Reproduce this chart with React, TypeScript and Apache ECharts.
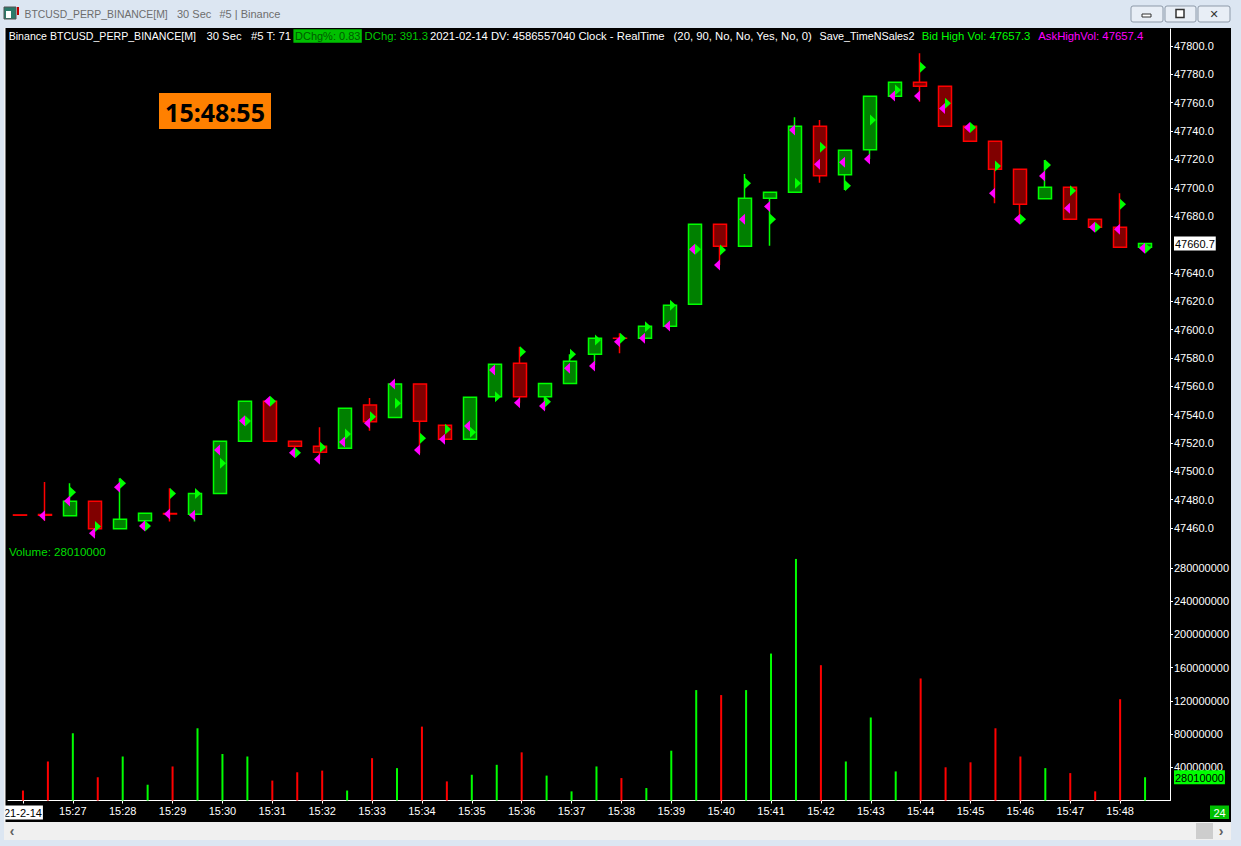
import React, { useEffect, useRef } from 'react';
import * as echarts from 'echarts';

// ---------- data ----------
const times = [
  '15:26:00', '15:26:30', '15:27:00', '15:27:30', '15:28:00', '15:28:30', '15:29:00', '15:29:30',
  '15:30:00', '15:30:30', '15:31:00', '15:31:30', '15:32:00', '15:32:30', '15:33:00', '15:33:30',
  '15:34:00', '15:34:30', '15:35:00', '15:35:30', '15:36:00', '15:36:30', '15:37:00', '15:37:30',
  '15:38:00', '15:38:30', '15:39:00', '15:39:30', '15:40:00', '15:40:30', '15:41:00', '15:41:30',
  '15:42:00', '15:42:30', '15:43:00', '15:43:30', '15:44:00', '15:44:30', '15:45:00', '15:45:30',
  '15:46:00', '15:46:30', '15:47:00', '15:47:30', '15:48:00', '15:48:30',
];
const opens = [
  47469.2, 47469.5, 47468.7, 47478.8, 47459.5, 47465.1, 47470.2, 47469.6,
  47484.4, 47521.2, 47549.4, 47521.2, 47517.6, 47516.2, 47546.7, 47538.0,
  47561.6, 47532.4, 47522.6, 47552.6, 47576.2, 47552.6, 47562.0, 47582.5,
  47593.9, 47593.8, 47602.3, 47617.8, 47674.2, 47658.7, 47692.6, 47696.8,
  47743.4, 47709.2, 47726.9, 47764.5, 47774.4, 47771.6, 47743.4, 47732.8,
  47713.0, 47692.3, 47700.3, 47677.8, 47672.1, 47658.0,
];
const closes = [
  47469.0, 47469.0, 47478.8, 47459.5, 47466.1, 47470.4, 47469.9, 47484.4,
  47521.2, 47549.4, 47521.2, 47517.6, 47513.4, 47544.4, 47535.0, 47561.6,
  47535.3, 47522.6, 47552.2, 47575.5, 47552.6, 47562.0, 47577.6, 47593.8,
  47593.8, 47602.3, 47617.1, 47674.2, 47658.7, 47692.6, 47696.8, 47743.4,
  47708.5, 47726.4, 47764.5, 47774.4, 47771.6, 47743.4, 47732.8, 47713.0,
  47688.3, 47700.3, 47677.8, 47672.1, 47658.0, 47660.7,
];
const lows = [
  47469.0, 47465.1, 47468.7, 47455.0, 47459.5, 47461.4, 47464.5, 47464.5,
  47484.4, 47521.2, 47521.2, 47513.0, 47508.4, 47516.2, 47528.6, 47538.0,
  47512.7, 47522.6, 47522.6, 47552.6, 47548.4, 47543.2, 47562.0, 47574.9,
  47583.2, 47593.8, 47602.3, 47617.8, 47645.5, 47658.7, 47659.1, 47696.8,
  47703.6, 47698.4, 47720.3, 47764.5, 47760.7, 47743.4, 47732.8, 47689.0,
  47677.3, 47692.3, 47677.8, 47672.1, 47658.0, 47657.3,
];
const highs = [
  47469.2, 47492.4, 47491.5, 47478.8, 47495.0, 47470.4, 47488.0, 47484.4,
  47521.2, 47549.4, 47549.4, 47521.2, 47531.0, 47544.4, 47551.7, 47561.6,
  47561.6, 47532.4, 47552.2, 47575.5, 47587.9, 47562.0, 47582.5, 47593.8,
  47597.3, 47602.3, 47617.1, 47674.2, 47674.2, 47709.7, 47696.8, 47749.7,
  47747.8, 47726.4, 47764.5, 47774.4, 47794.9, 47771.6, 47743.4, 47732.8,
  47713.0, 47719.6, 47700.3, 47677.8, 47696.1, 47660.7,
];
// price with the highest bid volume (green flags) / ask volume (magenta flags)
const bidHighVol = [
  null, null, 47485.2, 47461.0, 47491.5, 47461.4, 47484.4, 47484.4,
  47505.6, 47535.5, 47549.4, 47513.0, 47516.9, 47526.3, 47538.5, 47548.0,
  47523.3, 47529.6, 47527.5, 47552.6, 47584.4, 47549.1, 47582.5, 47592.6,
  47593.8, 47602.0, 47617.1, 47656.6, 47656.1, 47703.1, 47677.8, 47703.1,
  47728.5, 47701.5, 47747.8, 47769.0, 47785.0, 47759.6, 47742.6, 47715.4,
  47677.8, 47716.0, 47697.9, 47672.1, 47688.3, 47657.3,
];
const askHighVol = [
  null, 47468.7, 47479.0, 47456.2, 47488.7, 47461.4, 47469.9, 47469.0,
  47515.0, 47535.7, 47549.4, 47513.0, 47508.4, 47520.7, 47533.8, 47561.6,
  47515.0, 47522.6, 47532.0, 47571.4, 47548.4, 47546.0, 47572.6, 47574.3,
  47591.4, 47593.8, 47602.5, 47656.6, 47645.5, 47677.8, 47686.7, 47740.7,
  47716.6, 47718.0, 47720.3, 47764.7, 47764.7, 47756.0, 47742.6, 47696.1,
  47677.8, 47708.3, 47685.5, 47672.1, 47670.7, 47657.4,
];
const volumes = [
  12000000, 47000000, 81000000, 28000000, 53000000, 19000000, 41000000, 87000000,
  56000000, 53000000, 24000000, 34000000, 36000000, 12000000, 51000000, 39000000,
  89000000, 23000000, 31000000, 43000000, 58000000, 30000000, 11000000, 41000000,
  27000000, 15000000, 60000000, 133000000, 127000000, 133000000, 177000000, 291000000,
  163000000, 47000000, 100000000, 35000000, 147000000, 40000000, 46000000, 87000000,
  53000000, 39000000, 33000000, 11000000, 122000000, 28010000,
];
const priceTicks = [
  47460, 47480, 47500, 47520, 47540, 47560, 47580, 47600, 47620, 47640,
  47680, 47700, 47720, 47740, 47760, 47780, 47800,
];
const volumeTicks = [40000000, 80000000, 120000000, 160000000, 200000000, 240000000, 280000000];
const timeTickIndex = [0, 2, 4, 6, 8, 10, 12, 14, 16, 18, 20, 22, 24, 26, 28, 30, 32, 34, 36, 38, 40, 42, 44];
const dateLabel = '21-2-14';
const lastPrice = 47660.7;
const lastVolume = 28010000;
const clockText = '15:48:55';

// ---------- styling ----------
const FONT = 'Liberation Sans';
const UP_FILL = '#008000';
const UP_LINE = '#00ff00';
const DN_FILL = '#800000';
const DN_LINE = '#ff0000';
const FRAME = '#dce6f2';

export default function App() {
  const ref = useRef<HTMLDivElement>(null);

  useEffect(() => {
    if (!ref.current) return;
    const chart = echarts.init(ref.current, null, { renderer: 'svg' });

    const candleData = times.map((_, i) => [i, opens[i], closes[i], lows[i], highs[i]]);
    const bidData = times.map((_, i) => [i, bidHighVol[i]]).filter((d) => d[1] != null);
    const askData = times.map((_, i) => [i, askHighVol[i]]).filter((d) => d[1] != null);
    const volData = times.map((_, i) => ({
      value: [i, volumes[i]],
      itemStyle: { color: closes[i] >= opens[i] ? UP_LINE : DN_LINE },
    }));

    const headerY = 35.5;
    const hdr = (x: number, text: string, fill: string, size = 11.3) => ({
      type: 'text', x, y: headerY, z: 50,
      style: { text, fill, font: `${size}px "${FONT}"`, textVerticalAlign: 'middle' },
    });
    const ttl = (x: number, text: string, size = 11) => ({
      type: 'text', x, y: 14, z: 42,
      style: { text, fill: '#6d6d6d', font: `${size}px "${FONT}"`, textVerticalAlign: 'middle' },
    });

    const option: any = {
      animation: false,
      backgroundColor: '#000000',
      grid: [
        { left: 5, right: 71, top: 29, height: 520.8 },
        { left: 5, right: 71, top: 549.8, height: 250.7 },
      ],
      xAxis: [
        {
          gridIndex: 0, type: 'value', min: -0.6, max: 46,
          axisLine: { show: false, onZero: false }, axisTick: { show: false }, axisLabel: { show: false }, splitLine: { show: false },
        },
        {
          gridIndex: 1, type: 'value', min: -0.6, max: 46,
          axisLine: { show: true, onZero: false, lineStyle: { color: '#ffffff', width: 1 } },
          axisTick: { show: true, customValues: timeTickIndex, length: 3, lineStyle: { color: '#ffffff' } },
          axisLabel: {
            show: true, customValues: timeTickIndex, color: '#ffffff', fontFamily: FONT, fontSize: 11, margin: 5,
            formatter: (v: number) => (Math.round(v) === 0 ? `{d|${dateLabel}}` : times[Math.round(v)].slice(0, 5)),
            rich: { d: { backgroundColor: '#ffffff', color: '#000000', fontFamily: FONT, fontSize: 11, padding: [2, 1, 1, 1] } },
          },
          splitLine: { show: false },
        },
      ],
      yAxis: [
        {
          gridIndex: 0, type: 'value', position: 'right', min: 47444.6, max: 47812,
          axisLine: { show: true, onZero: false, lineStyle: { color: '#ffffff' } },
          axisTick: { show: true, customValues: priceTicks, length: 3, lineStyle: { color: '#ffffff' } },
          axisLabel: {
            show: true, customValues: [...priceTicks, lastPrice], color: '#ffffff', fontFamily: FONT, fontSize: 11, margin: 4,
            formatter: (v: number) => (Math.abs(v - lastPrice) < 0.01 ? `{c|${v.toFixed(1)}}` : v.toFixed(1)),
            rich: { c: { backgroundColor: '#ffffff', color: '#000000', fontFamily: FONT, fontSize: 11, padding: [2, 1, 1, 1] } },
          },
          splitLine: { show: false },
        },
        {
          gridIndex: 1, type: 'value', position: 'right', min: 0, max: 302000000,
          axisLine: { show: true, onZero: false, lineStyle: { color: '#ffffff' } },
          axisTick: { show: true, customValues: volumeTicks, length: 3, lineStyle: { color: '#ffffff' } },
          axisLabel: {
            show: true, customValues: [...volumeTicks, lastVolume], color: '#ffffff', fontFamily: FONT, fontSize: 11, margin: 4,
            formatter: (v: number) => (Math.abs(v - lastVolume) < 1 ? `{c|${Math.round(v)}}` : String(Math.round(v))),
            rich: { c: { backgroundColor: '#00ff00', color: '#000000', fontFamily: FONT, fontSize: 11, padding: [2, 1, 1, 1] } },
          },
          splitLine: { show: false },
        },
      ],
      series: [
        {
          type: 'candlestick', xAxisIndex: 0, yAxisIndex: 0, data: candleData,
          encode: { x: 0, y: [1, 2, 3, 4] }, barWidth: 14,
          itemStyle: { color: UP_FILL, color0: DN_FILL, borderColor: UP_LINE, borderColor0: DN_LINE, borderWidth: 1.5 },
        },
        {
          type: 'scatter', xAxisIndex: 0, yAxisIndex: 0, data: bidData, z: 5,
          symbol: 'path://M0 0L10 5L0 10Z', symbolSize: [6, 11], symbolOffset: [3, 0],
          itemStyle: { color: UP_LINE, opacity: 1 },
        },
        {
          type: 'scatter', xAxisIndex: 0, yAxisIndex: 0, data: askData, z: 6,
          symbol: 'path://M10 0L0 5L10 10Z', symbolSize: [6, 11], symbolOffset: [-3, 0],
          itemStyle: { color: '#ff00ff', opacity: 1 },
        },
        {
          type: 'bar', xAxisIndex: 1, yAxisIndex: 1, data: volData, barWidth: 2,
        },
      ],
      graphic: [
        // window chrome
        { type: 'rect', z: 40, shape: { x: 0, y: 0, width: 1241, height: 28 }, style: { fill: FRAME } },
        { type: 'rect', z: 40, shape: { x: 0, y: 28, width: 4, height: 818 }, style: { fill: FRAME } },
        { type: 'rect', z: 40, shape: { x: 1231, y: 28, width: 10, height: 818 }, style: { fill: FRAME } },
        { type: 'rect', z: 40, shape: { x: 0, y: 840, width: 1241, height: 6 }, style: { fill: FRAME } },
        { type: 'rect', z: 41, shape: { x: 4, y: 822, width: 1227, height: 18 }, style: { fill: '#f0f0f0' } },
        { type: 'rect', z: 42, shape: { x: 1196, y: 823, width: 17, height: 16 }, style: { fill: '#cdcdcd' } },
        { type: 'text', z: 42, x: 1221, y: 831, style: { text: '›', fill: '#606060', font: `bold 14px "${FONT}"`, textAlign: 'center', textVerticalAlign: 'middle' } },
        { type: 'text', z: 42, x: 12, y: 831, style: { text: '‹', fill: '#606060', font: `bold 14px "${FONT}"`, textAlign: 'center', textVerticalAlign: 'middle' } },
        { type: 'rect', z: 41, shape: { x: 4, y: 28, width: 1.5, height: 794 }, style: { fill: '#f4f4f4' } },
        // title icon
        { type: 'rect', z: 42, shape: { x: 4, y: 7, width: 12, height: 12 }, style: { fill: '#2a7a6a', stroke: '#555', lineWidth: 1 } },
        { type: 'rect', z: 43, shape: { x: 6, y: 11, width: 5, height: 7 }, style: { fill: '#ffffff' } },
        { type: 'rect', z: 43, shape: { x: 17, y: 7, width: 2, height: 8 }, style: { fill: '#c00000' } },
        ttl(24.5, 'BTCUSD_PERP_BINANCE[M]', 10.4),
        ttl(177, '30 Sec'),
        ttl(219.5, '#5 | Binance'),
        // window buttons
        { type: 'rect', z: 42, shape: { x: 1131, y: 6, width: 32, height: 16, r: 2 }, style: { fill: '#e8eef6', stroke: '#8d99a8', lineWidth: 1 } },
        { type: 'rect', z: 43, shape: { x: 1142, y: 14, width: 9, height: 3 }, style: { fill: '#ffffff', stroke: '#333', lineWidth: 1 } },
        { type: 'rect', z: 42, shape: { x: 1165, y: 6, width: 31, height: 16, r: 2 }, style: { fill: '#e8eef6', stroke: '#8d99a8', lineWidth: 1 } },
        { type: 'rect', z: 43, shape: { x: 1176, y: 9.5, width: 8, height: 8 }, style: { fill: '#ffffff', stroke: '#333', lineWidth: 1.5 } },
        { type: 'rect', z: 42, shape: { x: 1198, y: 6, width: 32, height: 16, r: 2 }, style: { fill: '#e8eef6', stroke: '#8d99a8', lineWidth: 1 } },
        { type: 'text', z: 43, x: 1214, y: 14.5, style: { text: '✕', fill: '#333333', font: `bold 11px "DejaVu Sans"`, textAlign: 'center', textVerticalAlign: 'middle' } },
        // header line
        hdr(8.7, 'Binance BTCUSD_PERP_BINANCE[M]', '#ffffff', 10.6),
        hdr(206.4, '30 Sec', '#ffffff'),
        hdr(251, '#5 T: 71', '#ffffff'),
        { type: 'rect', z: 49, shape: { x: 293.4, y: 29.3, width: 68.4, height: 13.4 }, style: { fill: '#00c000' } },
        hdr(295, 'DChg%: 0.83', '#005a00', 11),
        hdr(364.6, 'DChg: 391.3', '#00c800'),
        hdr(430, '2021-02-14 DV: 4586557040 Clock - RealTime', '#ffffff'),
        hdr(673.6, '(20, 90, No, No, Yes, No, 0)', '#ffffff'),
        hdr(819.5, 'Save_TimeNSales2', '#ffffff', 10.8),
        hdr(921.7, 'Bid High Vol: 47657.3', '#00ff00'),
        hdr(1038.3, 'AskHighVol: 47657.4', '#ff00ff'),
        // clock
        { type: 'rect', z: 49, shape: { x: 159, y: 93, width: 112, height: 36 }, style: { fill: '#ff8000' } },
        { type: 'text', z: 50, x: 215, y: 111.5, style: { text: clockText, fill: '#000000', font: `bold 25px "Noto Sans"`, textAlign: 'center', textVerticalAlign: 'middle' } },
        // volume caption
        { type: 'text', z: 50, x: 9, y: 551, style: { text: `Volume: ${lastVolume}`, fill: '#00dd00', font: `11.6px "${FONT}"`, textVerticalAlign: 'middle' } },
        // bar counter
        { type: 'rect', z: 49, shape: { x: 1210, y: 805.5, width: 19, height: 13.5 }, style: { fill: '#00c000' } },
        { type: 'text', z: 50, x: 1219.5, y: 812.5, style: { text: '24', fill: '#ffffff', font: `11px "${FONT}"`, textAlign: 'center', textVerticalAlign: 'middle' } },
      ],
    };

    chart.setOption(option);
    return () => chart.dispose();
  }, []);

  return <div ref={ref} style={{ position: 'fixed', left: 0, top: 0, width: 1241, height: 846 }} />;
}
